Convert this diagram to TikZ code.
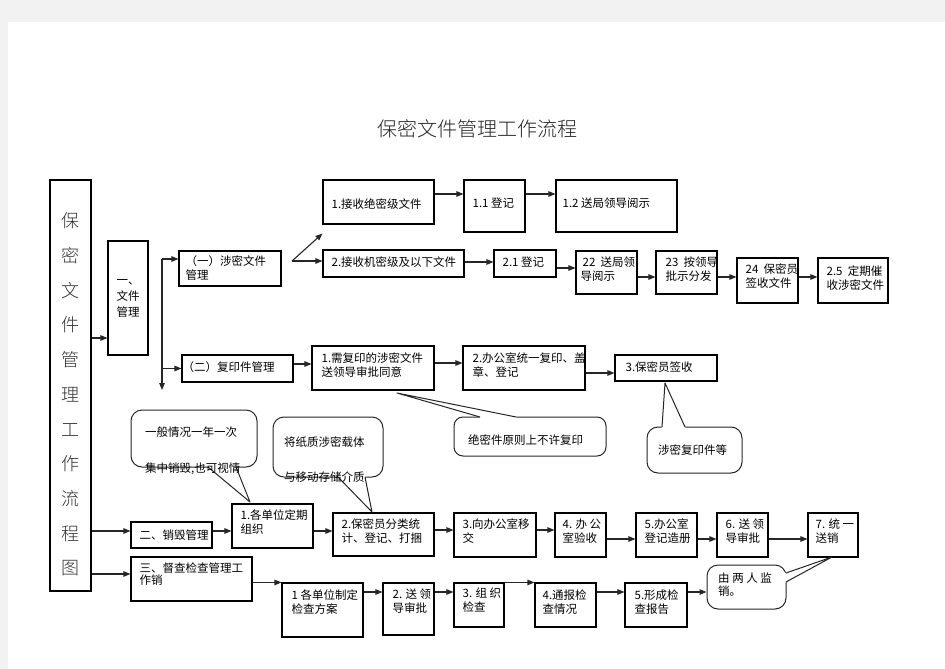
\documentclass[tikz,border=0pt]{standalone}
\usepackage{fontspec}
\setmainfont{Noto Sans CJK SC}
\newfontfamily\songti{Noto Sans CJK SC Light}
\usetikzlibrary{arrows.meta}
\definecolor{pagegray}{HTML}{F2F2F2}
\tikzset{
 boxst/.style={draw=black, line width=1.1pt, inner sep=0pt, rectangle},
 txt/.style={anchor=west, align=left, inner sep=0pt, font=\fontsize{11.5}{14}\selectfont, text=black},
 arr/.style={draw=black!85, line width=1.1pt, -{Triangle[length=7pt,width=5.5pt]}},
 callbox/.style={draw=black!85, line width=1pt, fill=white, rounded corners=11pt, inner sep=0pt, rectangle},
 tail/.style={draw=black!85, line width=1pt, line join=round},
 ctxt/.style={anchor=west, align=left, inner sep=0pt, text=black},
}
\newcommand\bx[9][]{%
 \node[boxst, minimum width={(#5-#3)*1pt}, minimum height={(#6-#4)*1pt}] (#2) at ({(#3+#5)/2},{(#4+#6)/2}) {};
 \node[txt,#1] (#2t) at ([xshift=#7pt,yshift=#8pt]#2.west) {#9};}
\newcommand\hy[3]{\draw[arr] (#1.east |- 0,#3) -- (#2.west |- 0,#3);}
\begin{document}
\begin{tikzpicture}[x=1pt,y=-1pt]
\useasboundingbox (0,0) rectangle (945,669);
\fill[pagegray] (0,0) rectangle (945,669);
\fill[white] (8,22) rectangle (945,669);

\node[font=\songti\fontsize{20}{24}\selectfont, text=black!85, inner sep=0pt] (title) at (477,129) {保密文件管理工作流程};

% left column
\node[boxst, minimum width=41pt, minimum height=411pt] (L) at (70.5,385.5) {};
\node[font=\songti\fontsize{18}{34.7}\selectfont, align=center, text=black!80, inner sep=0pt] (Lt) at (70.5,394.5) {保\\密\\文\\件\\管\\理\\工\\作\\流\\程\\图};

% section one
\bx[font=\fontsize{11.5}{16}\selectfont]{Y1}{108}{241}{148}{355}{9}{0}{一、\\文件\\管理}
\bx{S1}{179}{251}{281}{286}{7}{0}{（一）涉密文件\\管理}
\bx{S2}{182}{355}{293}{382}{1}{1}{（二）复印件管理}
\bx{A1}{323}{180}{434}{224}{9}{-2}{1.接收绝密级文件}
\bx{A11}{464}{180}{525}{232}{9}{3}{1.1 登记}
\bx{A12}{556}{180}{677}{232}{7}{3}{1.2 送局领导阅示}
\bx{A2}{323}{250}{464}{277}{9}{1}{2.接收机密级及以下文件}
\bx{A21}{494}{250}{556}{277}{9}{1}{2.1 登记}
\bx{A22}{576}{251}{637}{294}{5}{3}{\hspace*{2pt}22\ \ 送局领\\导阅示}
\bx{A23}{656}{251}{717}{294}{10}{3}{23\ \ 按领导\\批示分发}
\bx{A24}{737}{258}{798}{303}{9}{4}{24\ \ 保密员\\签收文件}
\bx{A25}{818}{258}{888}{303}{9}{2}{2.5\ \ 定期催\\收涉密文件}
\bx{C1}{312}{346}{434}{390}{10}{2.5}{1.需复印的涉密文件\\送领导审批同意}
\bx{C2}{463}{346}{585}{390}{10}{2.5}{2.办公室统一复印、盖\\章、登记}
\bx{C3}{615}{355}{717}{381}{11}{1}{3.保密员签收}

% section two
\bx{D2}{131}{522}{212}{548}{9}{0}{二、销毁管理}
\bx{D21}{232}{504}{313}{548}{9}{3.5}{1.各单位定期\\组织}
\bx{D22}{333}{513}{434}{556}{9}{3.5}{2.保密员分类统\\计、登记、打捆}
\bx{D23}{454}{513}{536}{557}{9}{4}{3.向办公室移\\交}
\bx{D24}{555}{513}{606}{557}{8}{4}{4. 办 公\\室验收}
\bx{D25}{636}{513}{697}{557}{9}{4}{5.办公室\\登记造册}
\bx{D26}{717}{513}{768}{557}{9}{4}{6. 送 领\\导审批}
\bx{D27}{808}{513}{858}{557}{8}{4}{7. 统 一\\送销}

% section three
\bx[font=\fontsize{11.5}{12}\selectfont]{D3}{131}{557}{252}{601}{9}{5}{三、督查检查管理工\\作销}
\bx{E1}{282}{583}{363}{637}{10}{7.5}{1 各单位制定\\检查方案}
\bx{E2}{383}{583}{434}{635}{10}{7.5}{2. 送 领\\导审批}
\bx{E3}{454}{583}{504}{627}{9}{4.5}{3. 组 织\\检查}
\bx{E4}{535}{583}{596}{627}{8}{3}{4.通报检\\查情况}
\bx{E5}{625}{583}{687}{627}{10}{3}{5.形成检\\查报告}

% callouts
\node[callbox, minimum width=126pt, minimum height=57pt] (K1) at (194,438.5) {};
\coordinate (K1a) at (250,502);
\fill[white] (207,465) -- (208,467) -- (K1a) -- (236,467) -- (237,465) -- cycle;
\draw[tail] (208,467) -- (K1a) -- (236,467);

\node[callbox, minimum width=110pt, minimum height=60pt] (K2) at (328,447) {};
\coordinate (K2a) at (372,512);
\fill[white] (337,475) -- (338,477) -- (K2a) -- (365,477) -- (366,475) -- cycle;
\draw[tail] (338,477) -- (K2a) -- (365,477);

\node[callbox, rounded corners=9pt, minimum width=152pt, minimum height=39pt] (K3) at (530,436.5) {};
\coordinate (K3a) at (397,393);
\fill[white] (479,419) -- (480,417) -- (K3a) -- (516,417) -- (517,419) -- cycle;
\draw[tail] (480,417) -- (K3a) -- (516,417);

\node[callbox, minimum width=95pt, minimum height=46pt] (K4) at (694.5,450) {};
\coordinate (K4a) at (665,383);
\fill[white] (661,429) -- (662,427) -- (K4a) -- (685,427) -- (686,429) -- cycle;
\draw[tail] (662,427) -- (K4a) -- (685,427);

\node[callbox, minimum width=79pt, minimum height=44pt] (K5) at (746.5,587) {};
\coordinate (K5a) at (832,557);
\fill[white] (784,572) -- (786,573) -- (K5a) -- (786,582) -- (784,583) -- cycle;
\draw[tail] (786,573) -- (K5a) -- (786,582);

\node[ctxt, font=\fontsize{11.5}{36}\selectfont] (K1t) at (145,451) {一般情况一年一次\\集中销毁,也可视情};
\node[ctxt, font=\fontsize{11.5}{35}\selectfont] (K2t) at (284,459.5) {将纸质涉密载体\\与移动存储介质};
\node[ctxt, font=\fontsize{11.5}{14}\selectfont] (K3t) at (468,440) {绝密件原则上不许复印};
\node[ctxt, font=\fontsize{11.5}{14}\selectfont] (K4t) at (658,450) {涉密复印件等};
\node[ctxt, font=\fontsize{11.5}{13}\selectfont] (K5t) at (718,585) {由 两 人 监\\销。};

% connectors
\hy{L}{Y1}{338}
\hy{L}{D2}{531}
\hy{L}{D3}{574}
\coordinate (vtop) at (162,259);
\coordinate (vbot) at (162,390);
\draw[arr] (vtop) -- (vbot);
\draw[arr] (vtop) -- (S1.west |- vtop);
\draw[arr] (S2.west -| vtop) -- (S2.west);
\coordinate (sfork) at (292,261);
\draw[arr] (sfork) -- ([yshift=-9pt]A1.south west);
\draw[arr] (sfork) -- (A2.west |- sfork);
\hy{A1}{A11}{194}
\hy{A11}{A12}{194}
\hy{A2}{A21}{262}
\hy{A21}{A22}{268}
\hy{A22}{A23}{277}
\hy{A23}{A24}{277}
\hy{A24}{A25}{277}
\hy{S2}{C1}{364}
\hy{C1}{C2}{363}
\hy{C2}{C3}{373}
\hy{D2}{D21}{531}
\hy{D21}{D22}{531}
\hy{D22}{D23}{530}
\hy{D23}{D24}{530}
\hy{D24}{D25}{539}
\hy{D25}{D26}{539}
\hy{D26}{D27}{539}
\draw[arr] (D3.east |- E1.north) -- (E1.north west);
\hy{E1}{E2}{592}
\hy{E2}{E3}{592}
\draw[arr] (E3.north east) -- (E4.north west);
\hy{E4}{E5}{592}
\hy{E5}{K5}{592}
\end{tikzpicture}
\end{document}
